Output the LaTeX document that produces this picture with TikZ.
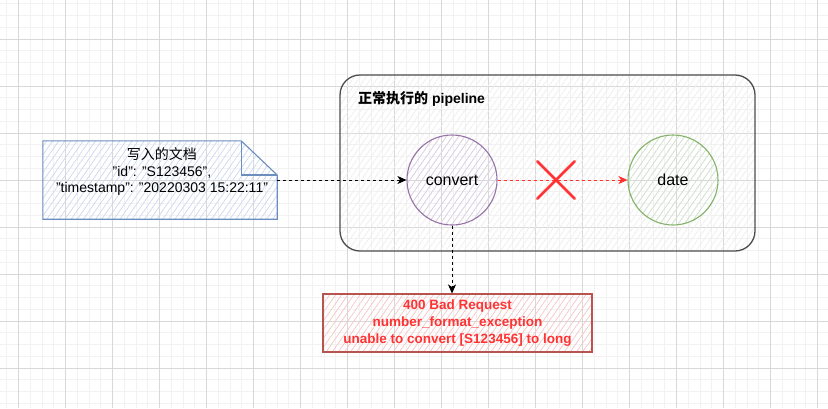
\documentclass[tikz,border=0pt]{standalone}
\usepackage{fontspec}
\setmainfont{Liberation Sans}
\newfontfamily\cjk{Noto Sans CJK SC}
\usetikzlibrary{arrows.meta,patterns.meta}
\definecolor{gridminor}{HTML}{F2F2F2}
\definecolor{gridmajor}{HTML}{D8D8D8}
\definecolor{bluestroke}{HTML}{6C8EBF}
\definecolor{bluehatch}{HTML}{C9DAF2}
\definecolor{purplestroke}{HTML}{9673A6}
\definecolor{purplehatch}{HTML}{DCCFE3}
\definecolor{greenstroke}{HTML}{82B366}
\definecolor{greenhatch}{HTML}{CFE3CD}
\definecolor{redstroke}{HTML}{B85450}
\definecolor{redhatch}{HTML}{F5C6C4}
\definecolor{redtext}{HTML}{FF3333}
\definecolor{boxstroke}{HTML}{4D4D4D}
\definecolor{boxhatch}{HTML}{EEEEEE}
\begin{document}
\begin{tikzpicture}[x=1pt,y=-1pt,
  font=\fontsize{14}{16.5}\selectfont,
  hatch/.style={pattern={Lines[angle=55,distance=5pt,line width=0.7pt]},pattern color=#1},
  conn/.style={dash pattern=on 3pt off 3pt,line width=0.9pt,-{Stealth[length=9pt,width=8pt,inset=2.5pt]}},
  stage/.style={circle,draw,line width=1.1pt,minimum size=90pt,inner sep=0pt,font=\fontsize{16}{18}\selectfont},
  cross/.style={line width=2.8pt,redtext,line cap=round}
]
\useasboundingbox (0,0) rectangle (828,408);
\fill[white] (0,0) rectangle (828,408);
% grid
\begin{scope}
\clip (0,0) rectangle (828,408);
\foreach \i in {0,...,70} {
  \draw[gridminor,line width=0.8pt] ({6.7+11.75*\i},0) -- ({6.7+11.75*\i},408);
}
\foreach \i in {0,...,35} {
  \draw[gridminor,line width=0.8pt] (0,{3.75+11.75*\i}) -- (828,{3.75+11.75*\i});
}
\foreach \i in {0,...,17} {
  \draw[gridmajor,line width=0.8pt] ({18.3+47*\i},0) -- ({18.3+47*\i},408);
}
\foreach \i in {0,...,9} {
  \draw[gridmajor,line width=0.8pt] (0,{-8+47*\i}) -- (828,{-8+47*\i});
}
\end{scope}

% container
\node[draw=boxstroke,line width=1.3pt,rounded corners=20pt,hatch=boxhatch,
      minimum width=415pt,minimum height=176pt,inner sep=0pt] (pipe) at (547.5,163) {};
\node[anchor=west,font=\fontsize{14}{16}\selectfont\bfseries,inner sep=0pt] (title) at (358,99) {{\cjk\bfseries 正常执行的} pipeline};

% document
\node[minimum width=234pt,minimum height=78pt,inner sep=0pt] (doc) at (160,180) {};
\path[draw=bluestroke,line width=1.1pt,hatch=bluehatch]
  (doc.north west) -- ([xshift=-36pt]doc.north east) -- ([yshift=5pt]doc.east) -- (doc.south east) -- (doc.south west) -- cycle;
\draw[bluestroke,line width=1.1pt] ([xshift=-36pt]doc.north east) -- ([xshift=-36pt,yshift=5pt]doc.east) -- ([yshift=5pt]doc.east);
\node[align=center,inner sep=0pt] (doctext) at (162,172) {{\cjk 写入的文档}\\"id": "S123456",\\"timestamp": "20220303 15:22:11"};

% stages
\node[stage,draw=purplestroke,hatch=purplehatch] (convert) at (452,180) {convert};
\node[stage,draw=greenstroke,hatch=greenhatch] (date) at (673,180) {date};

% error box
\node[draw=redstroke,line width=1.1pt,hatch=redhatch,minimum width=269pt,minimum height=58pt,
      inner sep=0pt,align=center,text=redtext,font=\fontsize{13.5}{17}\selectfont\bfseries] (err) at (457.5,323)
  {400 Bad Request\\number\_format\_exception\\unable to convert [S123456] to long};

% connectors
\draw[conn,black] (doc.east) -- (convert.west);
\draw[conn,redtext] (convert.east) -- (date.west);
\draw[conn,black] (convert.south) -- (convert.south |- err.north);

% red cross
\node[minimum width=37pt,minimum height=37pt,inner sep=0pt] (x) at (556,180) {};
\draw[cross] (x.north west) -- (x.south east);
\draw[cross] (x.north east) -- (x.south west);
\end{tikzpicture}
\end{document}
